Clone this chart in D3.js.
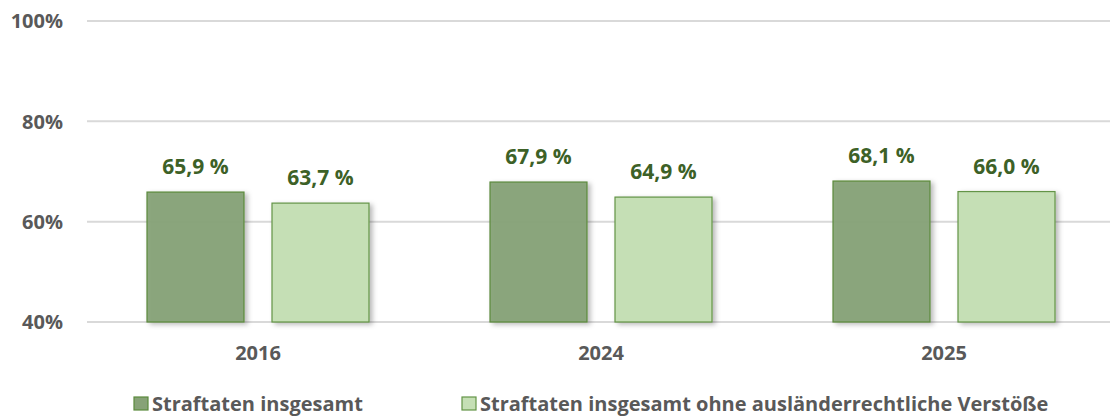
<!DOCTYPE html>
<html>
<head>
<meta charset="utf-8">
<script src="https://cdn.jsdelivr.net/npm/d3@7"></script>
<style>
  body { margin: 0; background: #fff; }
  svg { display: block; font-family: "Open Sans", sans-serif; font-weight: bold; }
</style>
</head>
<body>
<svg id="chart" width="1110" height="416"></svg>
<script>
const years = ['2016', '2024', '2025'];
const seriesNames = ['Straftaten insgesamt', 'Straftaten insgesamt ohne ausländerrechtliche Verstöße'];
const total = [65.9, 67.9, 68.1];
const withoutForeign = [63.7, 64.9, 66.0];
const yTicks = [40, 60, 80, 100];

const fills = ['#87a277', '#c5dfb5'];
const strokes = ['#5b8a3c', '#639446'];
const fillOpacity = [0.95, 1];

const svg = d3.select('#chart');

const x = d3.scaleBand().domain(years).range([86.5, 1115.5]);
const inner = d3.scaleBand().domain([0, 1]).range([0, x.bandwidth()]).paddingInner(0.224).paddingOuter(0.484);
const y = d3.scaleLinear().domain([40, 100]).range([322, 21]);

// soft shadow on bars
const defs = svg.append('defs');
const f = defs.append('filter').attr('id', 'shadow').attr('x', '-20%').attr('y', '-20%').attr('width', '150%').attr('height', '150%');
f.append('feDropShadow').attr('dx', 3).attr('dy', 2).attr('stdDeviation', 2.5)
  .attr('flood-color', '#000').attr('flood-opacity', 0.28);

// gridlines
svg.append('g').selectAll('line').data(yTicks).enter().append('line')
  .attr('x1', 87).attr('x2', 1110)
  .attr('y1', d => y(d)).attr('y2', d => y(d))
  .attr('stroke', '#d9d9d9').attr('stroke-width', 2);

svg.append('g').selectAll('text').data(yTicks).enter().append('text')
  .attr('x', 63).attr('y', d => y(d)).attr('dy', '0.36em')
  .attr('text-anchor', 'end').attr('font-size', 20).attr('fill', '#595959')
  .text(d => d + '%');

const data = [];
years.forEach((yr, i) => {
  data.push({ year: yr, s: 0, v: total[i] });
  data.push({ year: yr, s: 1, v: withoutForeign[i] });
});

const fmt = v => v.toFixed(1).replace('.', ',') + ' %';

svg.append('g').selectAll('rect').data(data).enter().append('rect')
  .attr('x', d => x(d.year) + inner(d.s))
  .attr('width', inner.bandwidth())
  .attr('y', d => y(d.v))
  .attr('height', d => y(40) - y(d.v))
  .attr('fill', d => fills[d.s])
  .attr('fill-opacity', d => fillOpacity[d.s])
  .attr('stroke', d => strokes[d.s]).attr('stroke-width', 1.2)
  .attr('filter', 'url(#shadow)');

svg.append('g').selectAll('text').data(data).enter().append('text')
  .attr('x', d => x(d.year) + inner(d.s) + inner.bandwidth() / 2)
  .attr('y', d => y(d.v) - 18)
  .attr('text-anchor', 'middle').attr('font-size', 21).attr('fill', '#3d6127')
  .text(d => fmt(d.v));

// category labels
svg.append('g').selectAll('text').data(years).enter().append('text')
  .attr('x', d => x(d) + x.bandwidth() / 2).attr('y', 360)
  .attr('text-anchor', 'middle').attr('font-size', 20).attr('fill', '#595959')
  .text(d => d);

// legend
const legendX = [134, 462];
const lg = svg.append('g').selectAll('g').data(seriesNames).enter().append('g')
  .attr('transform', (d, i) => `translate(${legendX[i]},397)`);
lg.append('rect').attr('width', 14).attr('height', 13)
  .attr('fill', (d, i) => fills[i]).attr('stroke', (d, i) => strokes[i]).attr('stroke-width', 1.2);
lg.append('text').attr('x', 18).attr('y', 14)
  .attr('font-size', 20).attr('fill', '#595959')
  .text(d => d);
</script>
</body>
</html>
